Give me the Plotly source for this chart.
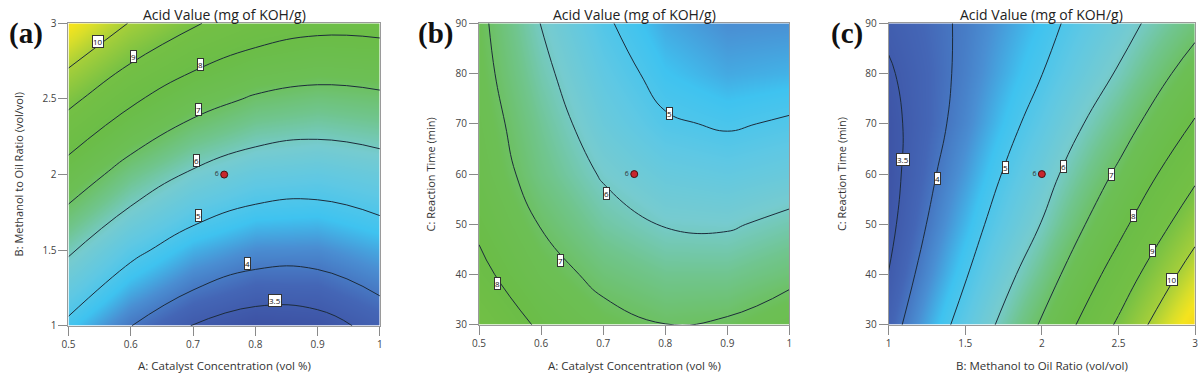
import plotly.graph_objects as go

# ---------------- data ----------------
A_vals = [0.5, 0.6, 0.7, 0.8, 0.9, 1.0]          # Catalyst concentration (vol %)
B_vals = [1.0, 1.5, 2.0, 2.5, 3.0]               # Methanol to oil ratio (vol/vol)
C_vals = [30, 40, 50, 60, 70, 80, 90]            # Reaction time (min)

# (a) acid value over A (columns) x B (rows)
av_AB = [
    [4.84, 4.01, 3.48, 3.24, 3.30, 3.66],
    [6.11, 5.19, 4.58, 4.26, 4.24, 4.52],
    [7.57, 6.58, 5.88, 5.48, 5.38, 5.57],
    [9.24, 8.16, 7.38, 6.90, 6.71, 6.83],
    [11.10, 9.94, 9.08, 8.52, 8.25, 8.28],
]
# (b) acid value over A (columns) x C (rows)
av_AC = [
    [8.79, 7.86, 7.27, 7.01, 7.10, 7.52],
    [8.22, 7.35, 6.78, 6.49, 6.49, 6.78],
    [7.85, 6.96, 6.31, 5.96, 5.92, 6.19],
    [7.57, 6.61, 5.93, 5.53, 5.41, 5.57],
    [7.42, 6.42, 5.59, 5.08, 4.93, 5.08],
    [7.28, 6.19, 5.34, 4.77, 4.53, 4.61],
    [7.19, 5.98, 5.10, 4.53, 4.29, 4.32],
]
# (c) acid value over B (columns) x C (rows)
av_BC = [
    [3.72, 5.30, 7.09, 9.13, 11.40],
    [3.51, 4.94, 6.53, 8.42, 10.49],
    [3.37, 4.65, 6.03, 7.74, 9.61],
    [3.32, 4.41, 5.66, 7.14, 8.82],
    [3.34, 4.21, 5.30, 6.58, 8.08],
    [3.44, 4.12, 4.99, 6.07, 7.41],
    [3.60, 4.08, 4.77, 5.68, 6.75],
]

# contour label positions (x, y, level) as seen on the reference
labels_a = [(0.548, 2.88, "10"), (0.605, 2.78, "9"), (0.712, 2.73, "8"), (0.709, 2.43, "7"),
            (0.705, 2.09, "6"), (0.709, 1.73, "5"), (0.787, 1.41, "4"), (0.831, 1.17, "3.5")]
labels_b = [(0.807, 72.0, "5"), (0.706, 56.1, "6"), (0.631, 42.8, "7"), (0.530, 38.2, "8")]
labels_c = [(1.096, 63.0, "3.5"), (1.32, 59.1, "4"), (1.76, 61.3, "5"), (2.14, 61.5, "6"),
            (2.455, 60.0, "7"), (2.60, 51.7, "8"), (2.72, 44.7, "9"), (2.849, 39.0, "10")]

# design (centre) point of each plot and its replicate count
center_a = ([0.75], [2.0])
center_b = ([0.75], [60])
center_c = ([2.0], [60])
center_count = "6"

x_ticks_A = [0.5, 0.6, 0.7, 0.8, 0.9, 1.0]
x_text_A = ["0.5", "0.6", "0.7", "0.8", "0.9", "1"]
ticks_B = [1, 1.5, 2, 2.5, 3]
text_B = ["1", "1.5", "2", "2.5", "3"]
ticks_C = [30, 40, 50, 60, 70, 80, 90]
text_C = ["30", "40", "50", "60", "70", "80", "90"]

# ---------------- style ----------------
W, H = 1204, 379
ZMIN, ZMAX = 3.2, 11.4
stops = [(3.2, '#3c50a2'), (3.8, '#4466b6'), (4.3, '#4a8fd3'), (4.75, '#3fc3f0'),
         (5.3, '#5fc8e4'), (5.9, '#76cbd0'), (6.5, '#70c58e'), (7.2, '#6cbf55'),
         (8.0, '#6bbd47'), (9.0, '#74c045'), (10.0, '#a6cf3a'), (10.6, '#d8de2b'),
         (11.0, '#f5e41e'), (11.4, '#f7d91a')]
cscale = [[(v - ZMIN) / (ZMAX - ZMIN), c] for v, c in stops]
LINE = '#1c2b3a'
FONT = "Open Sans"

# pixel boxes of the three plot areas: (left, right, top, bottom)
boxes = [(62, 376, 17, 331), (476, 789, 17, 330), (889, 1198, 17, 330)]


def px_x(p):
    return p / W


def px_y(p):
    return 1 - p / H


fig = go.Figure()

panels = [
    (A_vals, B_vals, av_AB, labels_a, center_a, x_ticks_A, x_text_A, ticks_B, text_B,
     "A: Catalyst Concentration (vol %)", "B: Methanol to Oil Ratio (vol/vol)", 12),
    (A_vals, C_vals, av_AC, labels_b, center_b, x_ticks_A, x_text_A, ticks_C, text_C,
     "A: Catalyst Concentration (vol %)", "C: Reaction Time (min)", 427),
    (B_vals, C_vals, av_BC, labels_c, center_c, ticks_B, text_B, ticks_C, text_C,
     "B: Methanol to Oil Ratio (vol/vol)", "C: Reaction Time (min)", 841),
]

annotations = []
for i, (xv, yv, z, labs, cen, xt, xtt, yt, ytt, xtitle, ytitle, ytx) in enumerate(panels):
    n = i + 1
    xa = 'x' if n == 1 else f'x{n}'
    ya = 'y' if n == 1 else f'y{n}'
    L, R, T, B = boxes[i]
    fig.add_trace(go.Contour(
        x=xv, y=yv, z=z, xaxis=xa, yaxis=ya,
        colorscale=cscale, zmin=ZMIN, zmax=ZMAX, showscale=False,
        contours=dict(coloring='heatmap', start=4, end=10, size=1, showlines=True),
        line=dict(color=LINE, width=1, smoothing=1.3), hoverinfo='skip'))
    fig.add_trace(go.Contour(
        x=xv, y=yv, z=z, xaxis=xa, yaxis=ya, showscale=False,
        contours=dict(coloring='none', start=3.5, end=3.6, size=1, showlines=True),
        line=dict(color=LINE, width=1, smoothing=1.3), hoverinfo='skip'))
    fig.add_trace(go.Scatter(
        x=cen[0], y=cen[1], xaxis=xa, yaxis=ya, mode='markers+text',
        text=[center_count], textposition='middle left',
        textfont=dict(size=7, color='#333', family=FONT),
        marker=dict(size=7, color='#c8262d', line=dict(color='#4a1010', width=1)),
        hoverinfo='skip', showlegend=False))
    for (lx, ly, lt) in labs:
        annotations.append(dict(x=lx, y=ly, xref=xa, yref=ya, text=lt, showarrow=False,
                                textangle=0,
                                font=dict(size=8, color='#111', family=FONT),
                                bgcolor='white', bordercolor='#333', borderwidth=1, borderpad=0))
    axis_common = dict(showgrid=False, zeroline=False, showline=True, linecolor='#9a9a9a',
                       linewidth=1, mirror=True, ticks='outside', ticklen=9, tickcolor='#8a8a8a',
                       tickfont=dict(size=10, color='#444', family=FONT))
    fig.layout[f'xaxis{"" if n == 1 else n}'] = dict(
        domain=[px_x(L), px_x(R)], range=[xv[0], xv[-1]], anchor=ya,
        tickvals=xt, ticktext=xtt, **axis_common)
    fig.layout[f'yaxis{"" if n == 1 else n}'] = dict(
        domain=[px_y(B), px_y(T)], range=[yv[0], yv[-1]], anchor=xa,
        tickvals=yt, ticktext=ytt, **axis_common)
    cx = (L + R) / 2
    annotations.append(dict(x=px_x(cx), y=px_y(8), xref='paper', yref='paper',
                            text="Acid Value (mg of KOH/g)", showarrow=False,
                            xanchor='center', yanchor='middle',
                            font=dict(size=14, color='#222', family=FONT)))
    annotations.append(dict(x=px_x(cx), y=px_y(372), xref='paper', yref='paper',
                            text=xtitle, showarrow=False, xanchor='center', yanchor='middle',
                            font=dict(size=11.5, color='#333', family=FONT)))
    annotations.append(dict(x=px_x(ytx), y=px_y((T + B) / 2), xref='paper', yref='paper',
                            text=ytitle, showarrow=False, textangle=-90,
                            xanchor='center', yanchor='middle',
                            font=dict(size=11, color='#333', family=FONT)))

tags = [("(a)", 19), ("(b)", 432), ("(c)", 847)]
for t, x in tags:
    annotations.append(dict(x=px_x(x), y=px_y(28), xref='paper', yref='paper', text=f"<b>{t}</b>",
                            showarrow=False, xanchor='center', yanchor='middle',
                            font=dict(size=29, color='#111', family="Liberation Serif")))

fig.update_layout(width=W, height=H, margin=dict(l=0, r=0, t=0, b=0),
                  paper_bgcolor='white', plot_bgcolor='white', showlegend=False,
                  annotations=annotations)

fig.write_html("out.html", config={'displayModeBar': False},
               post_script="document.body.style.margin='0px';")
